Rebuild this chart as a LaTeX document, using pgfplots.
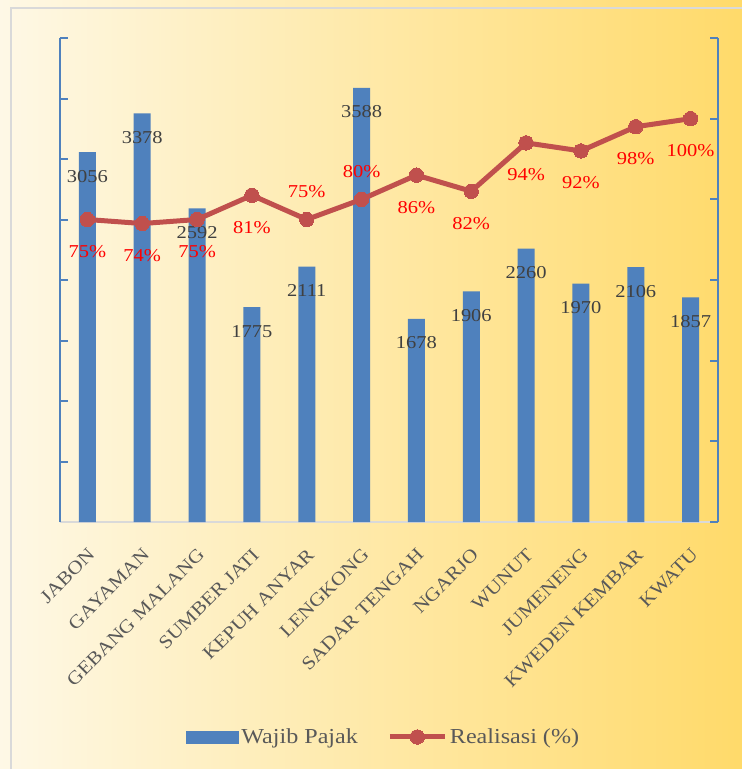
\documentclass[border=0pt]{standalone}
\usepackage{pgfplots}
\pgfplotsset{compat=1.18}
\usepackage{pgfplotstable}
\usepackage{fontspec}
\setmainfont{Liberation Serif}[FakeStretch=1.13]
\definecolor{barblue}{HTML}{4F81BD}
\definecolor{linered}{HTML}{C0504D}
\definecolor{axblue}{HTML}{4F81BD}
\definecolor{txtgray}{HTML}{595959}
\definecolor{lblgray}{HTML}{404040}
\definecolor{bgL}{HTML}{FEF8E6}
\definecolor{bgM}{HTML}{FEF1C8}
\definecolor{bgR}{HTML}{FFDA6A}
\definecolor{bordergray}{HTML}{D9D9D9}

\pgfplotsset{mylinelegend/.style={legend image code/.code={\draw[mark repeat=2,mark phase=2,##1] plot coordinates {(0pt,0pt) (20.6pt,0pt) (41.25pt,0pt)};}}}

\pgfplotstableread{
x v p s
0 3056 75 -24
1 3378 74 -24
2 2592 75 -24
3 1775 81 -24
4 2111 75 21
5 3588 80 21
6 1678 86 -24
7 1906 82 -24
8 2260 94 -24
9 1970 92 -24
10 2106 98 -24
11 1857 100 -24
}\data

\begin{document}
\begin{tikzpicture}[x=1pt,y=1pt]
\shade[left color=bgL, middle color=bgM, right color=bgR] (0,0) rectangle (556.5,576.75);
\useasboundingbox (0,0) rectangle (556.5,576.75);
\draw[bordergray, line width=1.5pt] (8.25,0) -- (8.25,570.75) -- (556.5,570.75);

\begin{axis}[
  at={(45pt,185.25pt)}, anchor=south west,
  scale only axis, width=493.5pt, height=363pt,
  xmin=-0.5, xmax=11.5, ymin=0, ymax=4000,
  axis x line*=bottom, axis y line*=left,
  x axis line style={draw=bordergray, line width=1.5pt},
  y axis line style={draw=axblue, line width=1.5pt},
  xtick={0,...,11},
  xticklabels={JABON, GAYAMAN, GEBANG MALANG, SUMBER JATI, KEPUH ANYAR, LENGKONG, SADAR TENGAH, NGARJO, WUNUT, JUMENENG, KWEDEN KEMBAR, KWATU},
  xticklabel shift=17pt,
  x tick label style={rotate=45, anchor=north east, font=\fontsize{14}{16}\selectfont, text=txtgray, inner sep=1pt, xshift=-0.5pt},
  xtick style={draw=none},
  ytick={0,500,...,4000}, yticklabels={},
  ytick style={draw=axblue, line width=1.5pt},
  tick align=inside, major tick length=6pt,
  clip=false,
]
\addplot[ybar, bar width=12.75pt, fill=barblue, draw=none,
  nodes near coords, point meta=explicit symbolic,
  every node near coord/.append style={anchor=center, yshift=-18pt, font=\fontsize{13.6}{15}\selectfont, text=lblgray}]
  table[x=x, y=v, meta=v] {\data};
\end{axis}

\begin{axis}[
  at={(45pt,185.25pt)}, anchor=south west,
  scale only axis, width=493.5pt, height=363pt,
  xmin=-0.5, xmax=11.5, ymin=0, ymax=120,
  axis x line=none, axis y line*=right,
  y axis line style={draw=axblue, line width=1.5pt},
  ytick={0,20,...,120}, yticklabels={},
  ytick style={draw=axblue, line width=1.5pt},
  tick align=inside, major tick length=6pt,
  clip=false,
  legend style={at={(0.4924,-0.4442)}, anchor=center, draw=none, fill=none, legend columns=2,
    font=\fontsize{16}{18}\selectfont, text=txtgray,
    /tikz/every even column/.append style={column sep=20pt}},
]
\addlegendimage{legend image code/.code={\fill[barblue] (0pt,-4.5pt) rectangle (39pt,4.5pt);}}
\addlegendentry{Wajib Pajak}
\addplot[linered, line width=3.75pt, mark=*, mark size=5.4pt,
  mark options={fill=linered, draw=linered, line width=0pt},
  nodes near coords={\pgfplotspointmeta\%}, point meta=explicit symbolic,
  visualization depends on={\thisrow{s} \as \myshift},
  every node near coord/.append style={anchor=center, yshift=\myshift pt, text=red, font=\fontsize{13.6}{15}\selectfont},
  mylinelegend
] table[x=x, y=p, meta=p] {\data};
\addlegendentry{Realisasi (\%)}
\end{axis}
\end{tikzpicture}
\end{document}
